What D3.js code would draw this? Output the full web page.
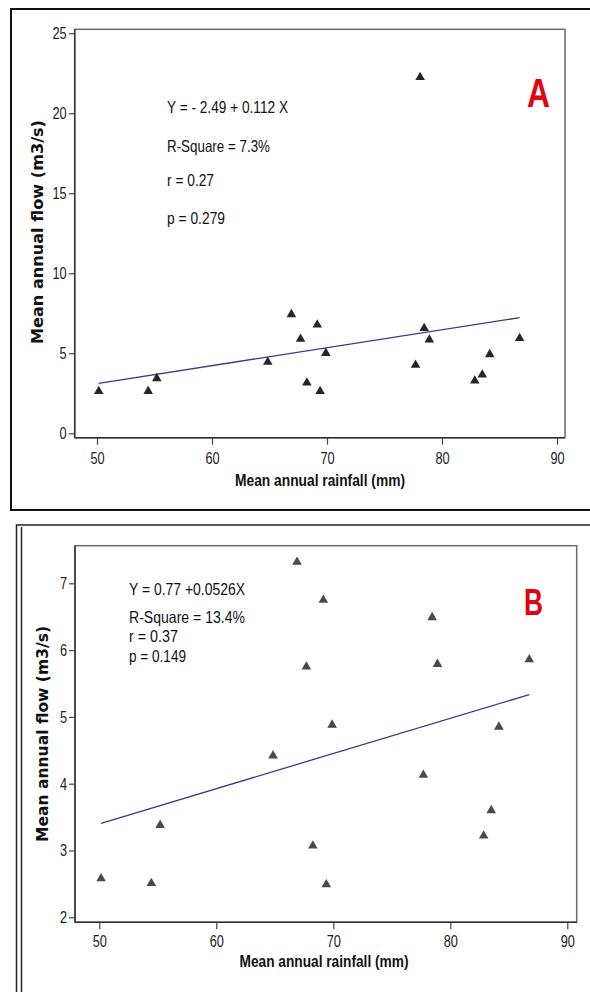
<!DOCTYPE html>
<html>
<head>
<meta charset="utf-8">
<script src="https://cdn.jsdelivr.net/npm/d3@7"></script>
<style>
  html, body { margin: 0; padding: 0; background: #fff; }
  svg { display: block; }
  .narrow { font-family: "Liberation Sans Narrow", "Liberation Sans", Arial, sans-serif; }
</style>
</head>
<body>
<div id="chart"></div>
<script>
// --- data ---
var rainfallA = [50.15, 54.45, 55.2, 64.85, 66.9, 67.7, 68.25, 69.15, 69.4, 69.9, 77.7, 78.1, 78.45, 78.9, 82.85, 83.5, 84.15, 86.75];
var flowA     = [2.63, 2.63, 3.43, 4.46, 7.43, 5.89, 3.16, 6.78, 2.63, 5.01, 4.27, 22.25, 6.57, 5.85, 3.28, 3.66, 4.93, 5.94];
var rainfallB = [50.15, 54.45, 55.2, 64.85, 66.9, 67.7, 68.25, 69.15, 69.4, 69.9, 77.7, 78.45, 78.9, 82.85, 83.5, 84.15, 86.75];
var flowB     = [2.58, 2.51, 3.38, 4.42, 7.32, 5.75, 3.07, 6.75, 2.49, 4.88, 4.13, 6.49, 5.79, 3.22, 3.6, 4.85, 5.86];

var xTicks  = [50, 60, 70, 80, 90];
var yTicksA = [0, 5, 10, 15, 20, 25];
var yTicksB = [2, 3, 4, 5, 6, 7];

// intercept, slope of the fitted lines
var fitA = [-2.49, 0.112];
var fitB = [0.77, 0.0526];

var statsA = ["Y = - 2.49 + 0.112 X", "R-Square = 7.3%", "r = 0.27", "p = 0.279"];
var statsB = ["Y = 0.77 +0.0526X", "R-Square = 13.4%", "r = 0.37", "p = 0.149"];

var xTitle = "Mean annual rainfall (mm)";
var yTitle = "Mean annual flow (m3/s)";

var svg = d3.select("#chart").append("svg")
    .attr("width", 590)
    .attr("height", 992);

// outer frames
svg.append("rect").attr("x", 11).attr("y", 9).attr("width", 600).attr("height", 501)
    .attr("fill", "none").attr("stroke", "#111").attr("stroke-width", 2);
svg.append("rect").attr("x", 16.5).attr("y", 525).attr("width", 600).attr("height", 500)
    .attr("fill", "none").attr("stroke", "#222").attr("stroke-width", 1.5);
svg.append("line").attr("x1", 21.5).attr("x2", 21.5).attr("y1", 527).attr("y2", 992)
    .attr("stroke", "#222").attr("stroke-width", 1.5);

function drawPanel(o) {
    var x = d3.scaleLinear().domain([50, 90]).range(o.xr);
    var y = d3.scaleLinear().domain(o.yd).range(o.yr);
    var g = svg.append("g");

    // plot frame
    g.append("rect")
        .attr("x", o.box[0]).attr("y", o.box[1])
        .attr("width", o.box[2] - o.box[0]).attr("height", o.box[3] - o.box[1])
        .attr("fill", "none").attr("stroke", "#6a6a6a").attr("stroke-width", 1.5);
    g.append("line").attr("x1", o.box[0]).attr("x2", o.box[0]).attr("y1", o.box[1]).attr("y2", o.box[3])
        .attr("stroke", "#333").attr("stroke-width", 1.5);
    g.append("line").attr("x1", o.box[0]).attr("x2", o.box[2]).attr("y1", o.box[3]).attr("y2", o.box[3])
        .attr("stroke", "#333").attr("stroke-width", 1.5);

    var ax = g.append("g")
        .attr("transform", "translate(0," + o.box[3] + ")")
        .call(d3.axisBottom(x).tickValues(xTicks).tickFormat(d3.format("d"))
            .tickSize(7).tickPadding(o.xpad).tickSizeOuter(0));
    var ay = g.append("g")
        .attr("transform", "translate(" + o.box[0] + ",0)")
        .call(d3.axisLeft(y).tickValues(o.yTicks).tickFormat(d3.format("d"))
            .tickSize(6).tickPadding(2).tickSizeOuter(0));
    [ax, ay].forEach(function (a) {
        a.select(".domain").remove();
        a.selectAll("line").attr("stroke", "#444").attr("stroke-width", 1.2);
        a.selectAll("text").attr("class", "narrow").attr("font-size", 17)
            .attr("fill", "#222").attr("font-family", null)
            .attr("textLength", function () { return this.textContent.length * 7.1; })
            .attr("lengthAdjust", "spacingAndGlyphs");
    });

    // fitted line
    var xs = d3.extent(o.xs);
    g.append("line")
        .attr("x1", x(xs[0])).attr("y1", y(o.fit[0] + o.fit[1] * xs[0]))
        .attr("x2", x(xs[1])).attr("y2", y(o.fit[0] + o.fit[1] * xs[1]))
        .attr("stroke", "#3a3a88").attr("stroke-width", 1.3);

    // points
    var tri = d3.symbol().type(d3.symbolTriangle).size(40);
    g.selectAll("path.pt").data(o.xs).join("path")
        .attr("class", "pt")
        .attr("d", tri)
        .attr("transform", function (d, i) { return "translate(" + x(d) + "," + y(o.ys[i]) + ")"; })
        .attr("fill", o.ptColor);

    // stats text
    g.selectAll("text.stat").data(o.stats).join("text")
        .attr("class", "stat narrow")
        .attr("x", o.statX)
        .attr("y", function (d, i) { return o.statY[i]; })
        .attr("font-size", 16.5)
        .attr("fill", "#111")
        .attr("textLength", function (d, i) { return o.statW[i]; })
        .attr("lengthAdjust", "spacingAndGlyphs")
        .text(function (d) { return d; });

    // panel letter
    g.append("text")
        .attr("class", "narrow")
        .attr("x", o.letter[1]).attr("y", o.letter[2])
        .attr("font-size", o.letter[3]).attr("font-weight", "bold")
        .attr("fill", "#e3000f")
        .attr("textLength", o.letter[4]).attr("lengthAdjust", "spacingAndGlyphs")
        .text(o.letter[0]);

    // axis titles
    g.append("text")
        .attr("class", "narrow")
        .attr("x", o.xt[0]).attr("y", o.xt[1])
        .attr("text-anchor", "middle")
        .attr("font-size", 16.5).attr("font-weight", "bold").attr("fill", "#111")
        .attr("textLength", o.xt[2]).attr("lengthAdjust", "spacingAndGlyphs")
        .text(xTitle);
    g.append("text")
        .attr("transform", "translate(" + o.yt[0] + "," + o.yt[1] + ") rotate(-90)")
        .attr("text-anchor", "middle")
        .attr("font-family", "'DejaVu Sans', Verdana, sans-serif")
        .attr("font-size", o.yt[3]).attr("font-weight", "bold").attr("fill", "#111")
        .attr("textLength", o.yt[2]).attr("lengthAdjust", "spacingAndGlyphs")
        .text(yTitle);
}

drawPanel({
    xr: [97, 557], yd: [0, 25], yr: [433.3, 33.3],
    box: [74.7, 29.3, 565, 437.7], yTicks: yTicksA, xpad: 7,
    xs: rainfallA, ys: flowA, fit: fitA, ptColor: "#262626",
    stats: statsA, statX: 167, statY: [113, 152, 186, 224], statW: [121, 103, 47, 58],
    letter: ["A", 527, 107, 41, 23],
    xt: [320, 486, 170], yt: [43, 232, 224, 16.5]
});

drawPanel({
    xr: [99.3, 567.3], yd: [2, 7], yr: [917.3, 583.3],
    box: [75, 545.7, 576.7, 922.3], yTicks: yTicksB, xpad: 6,
    xs: rainfallB, ys: flowB, fit: fitB, ptColor: "#4a4a4a",
    stats: statsB, statX: 129, statY: [595, 623, 642, 662], statW: [116, 116, 49, 57],
    letter: ["B", 524, 615, 37, 19],
    xt: [324, 967, 169], yt: [48, 734, 216, 16]
});
</script>
</body>
</html>
